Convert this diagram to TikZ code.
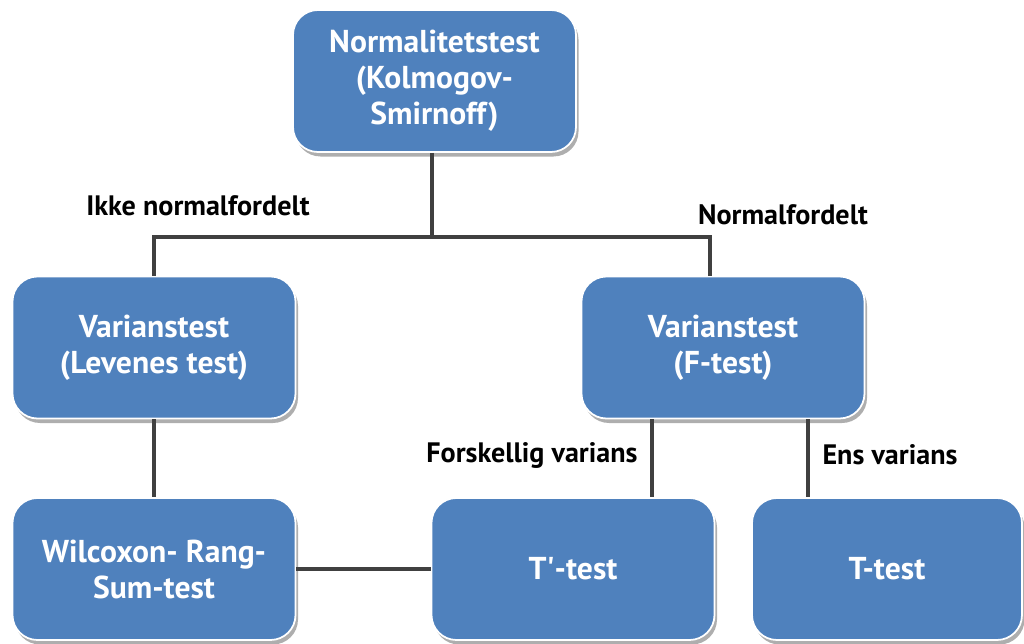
\documentclass[tikz,border=0pt]{standalone}
\usepackage{fontspec}
\setmainfont{PT Sans}
\usepackage{tikz}
\usetikzlibrary{shadows,calc}
\definecolor{boxblue}{HTML}{4F81BD}
\definecolor{linegray}{HTML}{404040}

\begin{document}
\begin{tikzpicture}[
  box/.style={rectangle,rounded corners=5mm,draw=white,line width=1pt,fill=boxblue,text=white,
    font=\fontsize{18}{20.5}\selectfont\bfseries,align=center,minimum width=5.66cm,minimum height=2.84cm,
    drop shadow={shadow xshift=0.5mm,shadow yshift=-0.9mm,fill=black!45,opacity=0.7}},
  conn/.style={draw=linegray,line width=2.3pt},
  lab/.style={font=\fontsize{16}{18}\selectfont\bfseries}]
  \useasboundingbox (0,0) rectangle (20.48,12.86);
  \node[box] (norm) at (8.69,11.24) {Normalitetstest\\(Kolmogov-\\Smirnoff)};
  \node[box] (lev) at (3.08,5.91) {Varianstest\\(Levenes test)};
  \node[box] (ftest) at (14.46,5.91) {Varianstest\\(F-test)};
  \node[box] (wil) at (3.08,1.48) {Wilcoxon- Rang-\\Sum-test};
  \node[box] (tp) at (11.46,1.48) {T\textquotesingle-test};
  \node[box,minimum width=5.4cm] (tt) at (17.74,1.48) {T-test};
  \coordinate (jn) at (8.64,8.12);
  % connectors
  \draw[conn] (norm.south -| jn) -- (jn);
  \draw[conn] (lev.north) |- (jn) -| ([xshift=-2.6mm]ftest.north);
  \draw[conn] (lev) -- (wil);
  \draw[conn] (wil) -- (tp);
  \draw[conn] ([xshift=-14.2mm]ftest.south) -- ([xshift=-14.2mm]ftest.south |- tp.north);
  \draw[conn] ([xshift=17mm]ftest.south) -- ([xshift=17mm]ftest.south |- tt.north);
  % labels
  \node[lab] (ikke) at (3.96,8.74) {Ikke normalfordelt};
  \node[lab] (nf) at (15.66,8.56) {Normalfordelt};
  \node[lab] (forsk) at (10.64,3.76) {Forskellig varians};
  \node[lab] (ens) at (17.8,3.76) {Ens varians};
\end{tikzpicture}
\end{document}
